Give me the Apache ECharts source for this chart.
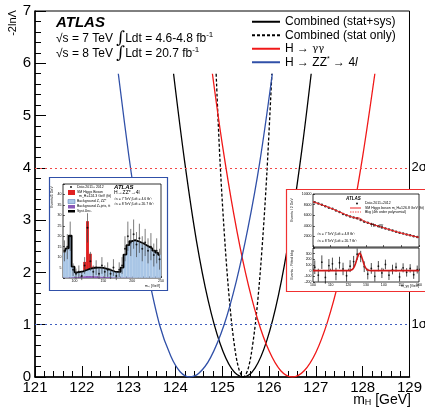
<!DOCTYPE html>
<html>
<head>
<meta charset="utf-8">
<script src="https://cdn.jsdelivr.net/npm/echarts@6/dist/echarts.min.js"></script>
<style>
html,body{margin:0;padding:0;background:#fff}
#chart{width:425px;height:408px}
</style>
</head>
<body>
<div id="chart"></div>
<script>
var FONT = '"Liberation Sans", Arial, Helvetica, sans-serif';

// likelihood scans, [mH, -2lnL]
var combSys = [[123.96,5.8],[124.2,4.1],[124.45,2.6],[124.7,1.46],[124.95,0.65],[125.2,0.16],[125.45,0],[125.7,0.17],[125.95,0.69],[126.2,1.56],[126.45,2.78],[126.7,4.34],[126.9,5.8]];
var combStat = [[124.87,5.8],[124.95,4.17],[125.05,2.67],[125.15,1.5],[125.25,0.67],[125.35,0.17],[125.45,0],[125.55,0.15],[125.65,0.62],[125.75,1.38],[125.85,2.46],[125.95,3.85],[126.06,5.8]];
var gamgam = [[124.79,5.8],[125.0,4.46],[125.25,3.1],[125.5,1.98],[125.75,1.12],[126.0,0.5],[126.25,0.12],[126.5,0],[126.75,0.12],[127.0,0.47],[127.25,1.06],[127.5,1.88],[127.75,2.93],[128.0,4.22],[128.26,5.8]];
var zz4l = [[122.78,5.8],[123.0,4.26],[123.2,3.05],[123.4,2.04],[123.66,1.0],[123.9,0.4],[124.1,0.1],[124.3,0],[124.5,0.07],[124.75,0.37],[125.04,1.0],[125.3,1.83],[125.55,2.85],[125.8,4.1],[126.07,5.8]];
var sigmaLevels = [4, 1];
var sigmaNames = ['2σ', '1σ'];

// inset 1: m4l spectrum (5 GeV bins)
var zzBinLo = [80,85,90,95,100,105,110,115,120,125,130,135,140,145,150,155,160,165,170,175,180,185,190,195,200,205,210,215,220,225,230,235,240,245];
var zzZjets = [0.2,0.2,0.3,0.4,0.5,0.7,0.8,0.9,1,1,1,0.9,0.8,0.7,0.6,0.5,0.4,0.3,0.3,0.2,0.2,0.2,0.2,0.2,0.1,0.1,0.1,0.1,0.1,0.1,0.1,0.1,0.1,0.1];
var zzBkg = [12,14,20,5,2.2,2.2,2.4,2.8,3.2,3.6,3.9,4.1,4.2,4.1,3.9,3.6,3.2,2.8,2.6,2.8,4.8,11,15.5,17.5,18,17.6,17,16.4,15.6,14.8,14,13,12,11];
var zzSignal = [0,0,0,0,0,0,0,4,23,7,0.5,0,0,0,0,0,0,0,0,0,0,0,0,0,0,0,0,0,0,0,0,0,0,0];
var zzObs = [13,15,20,4,2,3,1,6,24,8,3,5,2,6,3,4,2,5,1,4,6,14,20,17,21,16,19,14,17,13,15,11,13,9];
var zzErr = [5,6,7,3,2.5,3,2,4,7,4.5,3,3.5,2.5,4,3,3.5,2.5,4,2,3.5,4,6,7,6.5,7,6,7,6,6.5,6,6.5,5.5,6,5];

// inset 2: m_gamgam spectrum (2 GeV bins) and residuals
var ggMass = [101,103,105,107,109,111,113,115,117,119,121,123,125,127,129,131,133,135,137,139,141,143,145,147,149,151,153,155,157,159];
var ggObs = [8450,8200,7950,7700,7420,7200,6900,6600,6250,5980,5750,5550,5420,5100,4780,4560,4330,4120,3910,3680,3500,3290,3100,2900,2700,2530,2360,2200,2050,1900];
var ggFitX = [100,105,110,115,120,122,124,125,126,127,128,130,135,140,145,150,155,160];
var ggBkg = [8550,7950,7330,6620,5900,5650,5410,5290,5170,5050,4930,4700,4140,3620,3100,2620,2200,1820];
var ggSigBkg = [8550,7950,7330,6620,5905,5670,5530,5510,5470,5330,5110,4720,4140,3620,3100,2620,2200,1820];
var ggResid = [60,-80,150,-120,90,120,-60,140,30,-90,80,160,290,250,70,-60,40,-100,80,-40,110,-80,20,60,-110,50,-30,40,-70,20];
var ggResErr = [120,115,120,110,115,110,110,105,110,100,105,100,100,100,95,95,95,90,90,90,85,85,85,80,80,80,75,75,75,70];
var ggResX = [100,120,122,123,124,125,126,126.5,127,128,129,130,131,133,160];
var ggResY = [0,0,15,50,120,220,295,305,290,200,100,40,12,0,0];

function rectItem(params, api) {
  var p1 = api.coord([api.value(0), api.value(3)]);
  var p2 = api.coord([api.value(1), api.value(2)]);
  return {type:'rect', shape:{x:p1[0], y:p1[1], width:p2[0]-p1[0], height:p2[1]-p1[1]},
    style:{fill: api.visual('color')}};
}
function errItem(params, api) {
  var a = api.coord([api.value(0), api.value(1) - api.value(2)]);
  var b = api.coord([api.value(0), api.value(1) + api.value(2)]);
  return {type:'line', shape:{x1:a[0], y1:a[1], x2:b[0], y2:b[1]},
    style:{stroke: api.visual('color'), lineWidth:0.7}};
}

var zjRects = [], zzRects = [], sigRects = [], zzTotal = [], zzPts = [], zzBars = [];
for (var i = 0; i < zzBinLo.length; i++) {
  var lo = zzBinLo[i], hi = lo + 5;
  var b1 = zzZjets[i], b2 = b1 + zzBkg[i];
  zjRects.push([lo, hi, 0, b1]);
  zzRects.push([lo, hi, b1, b2]);
  if (zzSignal[i] > 0) sigRects.push([lo, hi, b2, b2 + zzSignal[i]]);
  zzTotal.push([lo + 2.5, b2]);
  zzPts.push([lo + 2.5, zzObs[i]]);
  zzBars.push([lo + 2.5, zzObs[i], zzErr[i]]);
}
var ggPts = [], ggResPts = [], ggResBars = [], ggBkgLine = [], ggSigLine = [], ggResLine = [];
for (var i = 0; i < ggMass.length; i++) {
  ggPts.push([ggMass[i], ggObs[i]]);
  ggResPts.push([ggMass[i], ggResid[i]]);
  ggResBars.push([ggMass[i], ggResid[i], ggResErr[i]]);
}
for (var i = 0; i < ggFitX.length; i++) {
  ggBkgLine.push([ggFitX[i], ggBkg[i]]);
  ggSigLine.push([ggFitX[i], ggSigBkg[i]]);
}
for (var i = 0; i < ggResX.length; i++) ggResLine.push([ggResX[i], ggResY[i]]);

var chart = echarts.init(document.getElementById('chart'));

function mainAxis(min, max, margin) {
  return {
    type:'value', min:min, max:max, interval:1,
    axisLine:{lineStyle:{color:'#000', width:1.5}},
    axisTick:{inside:true, length:11, lineStyle:{color:'#000'}},
    minorTick:{show:true, splitNumber:5, length:6, lineStyle:{color:'#000'}},
    axisLabel:{color:'#000', fontSize:15, margin:margin, fontFamily:FONT},
    splitLine:{show:false}
  };
}
function insetAxis(grid, min, max, interval, showLabel, fmt) {
  return {
    gridIndex:grid, type:'value', min:min, max:max, interval:interval, z:10,
    axisLine:{show:false},
    axisTick:{inside:true, length:2, lineStyle:{color:'#000', width:0.6}},
    axisLabel:{show:showLabel, color:'#000', fontSize:3.5, margin:1.5, fontFamily:FONT, formatter:fmt},
    splitLine:{show:false}
  };
}
function tiny(x, y, text, size, opt) {
  opt = opt || {};
  return {type:'text', x:x, y:y, z:20, rotation:opt.rot || 0,
    style:{text:text, font:(opt.font || '') + ' ' + size + 'px ' + FONT, fill:opt.fill || '#000',
      align:opt.align || 'left', verticalAlign:'middle'}};
}

var lineBase = {type:'line', symbol:'none', smooth:0.35, xAxisIndex:0, yAxisIndex:0, z:2};

var option = {
  animation:false,
  backgroundColor:'#fff',
  grid:[
    {left:35, right:14, top:11, bottom:31, show:true, borderColor:'#000', borderWidth:1},
    {left:63, top:184, width:98, height:94, show:true, borderColor:'#000', borderWidth:0.8, z:10},
    {left:313, top:194, width:106, height:53, show:true, borderColor:'#000', borderWidth:0.8, z:10},
    {left:313, top:248, width:106, height:34, show:true, borderColor:'#000', borderWidth:0.8, z:10}
  ],
  xAxis:[
    mainAxis(121, 129, 3),
    insetAxis(1, 80, 250, 10, true, function(v){ return v % 50 === 0 ? String(v) : ''; }),
    insetAxis(2, 100, 160, 10, false),
    insetAxis(3, 100, 160, 10, true)
  ],
  yAxis:[
    mainAxis(0, 7, 4),
    insetAxis(1, 0, 45, 5, true, function(v){ return v > 0 && v < 45 ? String(v) : ''; }),
    insetAxis(2, 0, 10000, 2000, true, function(v){ return v > 0 ? String(v) : ''; }),
    insetAxis(3, -200, 400, 100, true, function(v){ return v < 400 ? String(v) : ''; })
  ],
  legend:{
    data:['Combined (stat+sys)','Combined (stat only)','H → γγ','H → ZZ* → 4l'],
    orient:'vertical', left:251, top:15, itemWidth:28, itemHeight:9, itemGap:0, padding:0,
    itemStyle:{opacity:0},
    textStyle:{fontSize:12, lineHeight:13.5, color:'#000', fontFamily:FONT,
      rich:{n:{fontSize:12, lineHeight:13.5, fontFamily:FONT}, g:{fontSize:10, lineHeight:13.5, fontFamily:'"DejaVu Serif", serif'},
        sup:{fontSize:7, lineHeight:13.5, verticalAlign:'top', fontFamily:FONT}, it:{fontSize:12, lineHeight:13.5, fontStyle:'italic', fontFamily:FONT}}},
    formatter:function(name){
      if (name === 'H → γγ') return '{n|H → }{g|γγ}';
      if (name === 'H → ZZ* → 4l') return '{n|H → ZZ}{sup|*}{n| → 4}{it|l}';
      return name;
    }
  },
  graphic:[
    {type:'rect', z:5, shape:{x:49.5, y:177.5, width:118, height:113}, style:{fill:'#fff', stroke:'#3050a8', lineWidth:1.2}},
    {type:'rect', z:5, shape:{x:286.5, y:189.5, width:150, height:102}, style:{fill:'#fff', stroke:'#f03030', lineWidth:1.2}},
    {type:'text', x:56, y:23, style:{text:'ATLAS', font:'italic bold 15px ' + FONT, fill:'#000', verticalAlign:'middle'}},
    {type:'text', x:56, y:39, style:{text:'{a|√s = 7 TeV }{b|∫}{a|Ldt = 4.6-4.8 fb}{c|-1}', verticalAlign:'middle',
      rich:{a:{fontSize:12, fontFamily:FONT, fill:'#000'}, b:{fontSize:17, fontFamily:'"DejaVu Serif", serif', fill:'#000'}, c:{fontSize:8, fontFamily:FONT, verticalAlign:'top', fill:'#000'}}}},
    {type:'text', x:56, y:54, style:{text:'{a|√s = 8 TeV }{b|∫}{a|Ldt = 20.7 fb}{c|-1}', verticalAlign:'middle',
      rich:{a:{fontSize:12, fontFamily:FONT, fill:'#000'}, b:{fontSize:17, fontFamily:'"DejaVu Serif", serif', fill:'#000'}, c:{fontSize:8, fontFamily:FONT, verticalAlign:'top', fill:'#000'}}}},
    {type:'text', x:13, y:23, rotation:Math.PI / 2, style:{text:'-2lnΛ', font:'11px ' + FONT, fill:'#000', align:'center', verticalAlign:'middle'}},
    {type:'text', x:411, y:400, style:{text:'{a|m}{s|H}{a| [GeV]}', align:'right', verticalAlign:'middle',
      rich:{a:{fontSize:14, fontFamily:FONT, fill:'#000'}, s:{fontSize:9, fontFamily:FONT, verticalAlign:'bottom', fill:'#000'}}}},
    // inset 1 labels
    tiny(52, 197, 'Events/5 GeV', 3.5, {rot:Math.PI / 2, align:'center'}),
    {type:'circle', z:20, shape:{cx:71, cy:187, r:0.9}, style:{fill:'#000'}},
    tiny(77, 187, 'Data 2011+ 2012', 3.5),
    {type:'rect', z:20, shape:{x:68, y:190, width:7, height:5}, style:{fill:'#e02020'}},
    tiny(77, 192, 'SM Higgs Boson', 3.5), tiny(79, 196, 'm_H=124.3 GeV (fit)', 3.5),
    {type:'rect', z:20, shape:{x:68, y:199.5, width:7, height:4}, style:{fill:'#a9c6e6', stroke:'#4a6fb0', lineWidth:0.5}},
    tiny(77, 201.5, 'Background Z, ZZ*', 3.5),
    {type:'rect', z:20, shape:{x:68, y:205, width:7, height:3.5}, style:{fill:'#8a5ab8'}},
    tiny(77, 206.5, 'Background Z+jets, tt̄', 3.5),
    {type:'rect', z:20, shape:{x:68, y:210, width:7, height:2.5}, style:{fill:'#000'}},
    tiny(77, 211, 'Syst.Unc.', 3.5),
    tiny(114, 187, 'ATLAS', 6, {font:'italic bold'}),
    tiny(114, 193, 'H→ZZ*→4l', 5),
    tiny(114, 199, '√s = 7 TeV ∫Ldt = 4.6 fb⁻¹', 3.5),
    tiny(114, 204, '√s = 8 TeV ∫Ldt = 20.7 fb⁻¹', 3.5),
    tiny(160, 286.5, 'm₄ₗ [GeV]', 3.5, {align:'right'}),
    // inset 2 labels
    tiny(292, 210, 'Events / 2 GeV', 3.5, {rot:Math.PI / 2, align:'center'}),
    tiny(292, 265, 'Events - Fitted bkg', 3.5, {rot:Math.PI / 2, align:'center'}),
    tiny(346, 199, 'ATLAS', 4.5, {font:'italic bold'}),
    {type:'circle', z:20, shape:{cx:357, cy:203.5, r:0.9}, style:{fill:'#000'}},
    tiny(365, 203.5, 'Data 2011+2012', 3.5),
    {type:'line', z:20, shape:{x1:350, y1:208, x2:361, y2:208}, style:{stroke:'#f02020', lineWidth:1}},
    tiny(365, 208, 'SM Higgs boson m_H=126.8 GeV (fit)', 3.5),
    {type:'line', z:20, shape:{x1:350, y1:212, x2:361, y2:212}, style:{stroke:'#f02020', lineWidth:0.8, lineDash:[1.5,1]}},
    tiny(365, 212, 'Bkg (4th order polynomial)', 3.5),
    tiny(371, 226, 'H→γγ', 4.5),
    tiny(317, 234, '√s = 7 TeV ∫Ldt = 4.8 fb⁻¹', 3.5),
    tiny(317, 241, '√s = 8 TeV ∫Ldt = 20.7 fb⁻¹', 3.5),
    tiny(419, 286.5, 'm_γγ [GeV]', 3.5, {align:'right'})
  ],
  series:[
    Object.assign({}, lineBase, {name:'Combined (stat+sys)', data:combSys, lineStyle:{color:'#000', width:1.3}, itemStyle:{color:'#000'}}),
    Object.assign({}, lineBase, {name:'Combined (stat only)', data:combStat, lineStyle:{color:'#000', width:1.3, type:[3,2]}, itemStyle:{color:'#000'}}),
    Object.assign({}, lineBase, {name:'H → γγ', data:gamgam, lineStyle:{color:'#f01818', width:1.3}, itemStyle:{color:'#f01818'}}),
    Object.assign({}, lineBase, {name:'H → ZZ* → 4l', data:zz4l, lineStyle:{color:'#3050a8', width:1.3}, itemStyle:{color:'#3050a8'},
      markLine:{silent:true, symbol:'none',
        lineStyle:{width:1.2, type:[2,3]},
        label:{position:'end', distance:2, fontSize:13, color:'#000', fontFamily:FONT},
        data:[
          {yAxis:sigmaLevels[0], lineStyle:{color:'#f04848'}, label:{formatter:sigmaNames[0]}},
          {yAxis:sigmaLevels[1], lineStyle:{color:'#4060c0'}, label:{formatter:sigmaNames[1]}}
        ]}}),
    // inset 1
    {type:'custom', xAxisIndex:1, yAxisIndex:1, z:12, renderItem:rectItem, data:zjRects, itemStyle:{color:'#8a5ab8'}, encode:{x:[0,1], y:[2,3]}},
    {type:'custom', xAxisIndex:1, yAxisIndex:1, z:12, renderItem:rectItem, data:zzRects, itemStyle:{color:'#a9c6e6'}, encode:{x:[0,1], y:[2,3]}},
    {type:'custom', xAxisIndex:1, yAxisIndex:1, z:12, renderItem:rectItem, data:sigRects, itemStyle:{color:'#e02020'}, encode:{x:[0,1], y:[2,3]}},
    {type:'line', xAxisIndex:1, yAxisIndex:1, z:13, symbol:'none', step:'middle', data:zzTotal, lineStyle:{color:'#000', width:1.8}},
    {type:'custom', xAxisIndex:1, yAxisIndex:1, z:14, renderItem:errItem, data:zzBars, itemStyle:{color:'#444'}, encode:{x:0, y:1}},
    {type:'scatter', xAxisIndex:1, yAxisIndex:1, z:15, symbolSize:2, data:zzPts, itemStyle:{color:'#000'}},
    // inset 2 upper
    {type:'scatter', xAxisIndex:2, yAxisIndex:2, z:13, symbolSize:2.5, data:ggPts, itemStyle:{color:'#000'}},
    {type:'line', xAxisIndex:2, yAxisIndex:2, z:14, symbol:'none', smooth:true, data:ggBkgLine, lineStyle:{color:'#f02020', width:0.8, type:[1.5,1]}},
    {type:'line', xAxisIndex:2, yAxisIndex:2, z:14, symbol:'none', smooth:true, data:ggSigLine, lineStyle:{color:'#f02020', width:1}},
    // inset 2 lower
    {type:'custom', xAxisIndex:3, yAxisIndex:3, z:13, renderItem:errItem, data:ggResBars, itemStyle:{color:'#000'}, encode:{x:0, y:1}},
    {type:'scatter', xAxisIndex:3, yAxisIndex:3, z:13, symbolSize:1.8, data:ggResPts, itemStyle:{color:'#000'}},
    {type:'line', xAxisIndex:3, yAxisIndex:3, z:14, symbol:'none', smooth:0.3, data:ggResLine, lineStyle:{color:'#d01818', width:1.6}}
  ]
};
chart.setOption(option);
</script>
</body>
</html>
